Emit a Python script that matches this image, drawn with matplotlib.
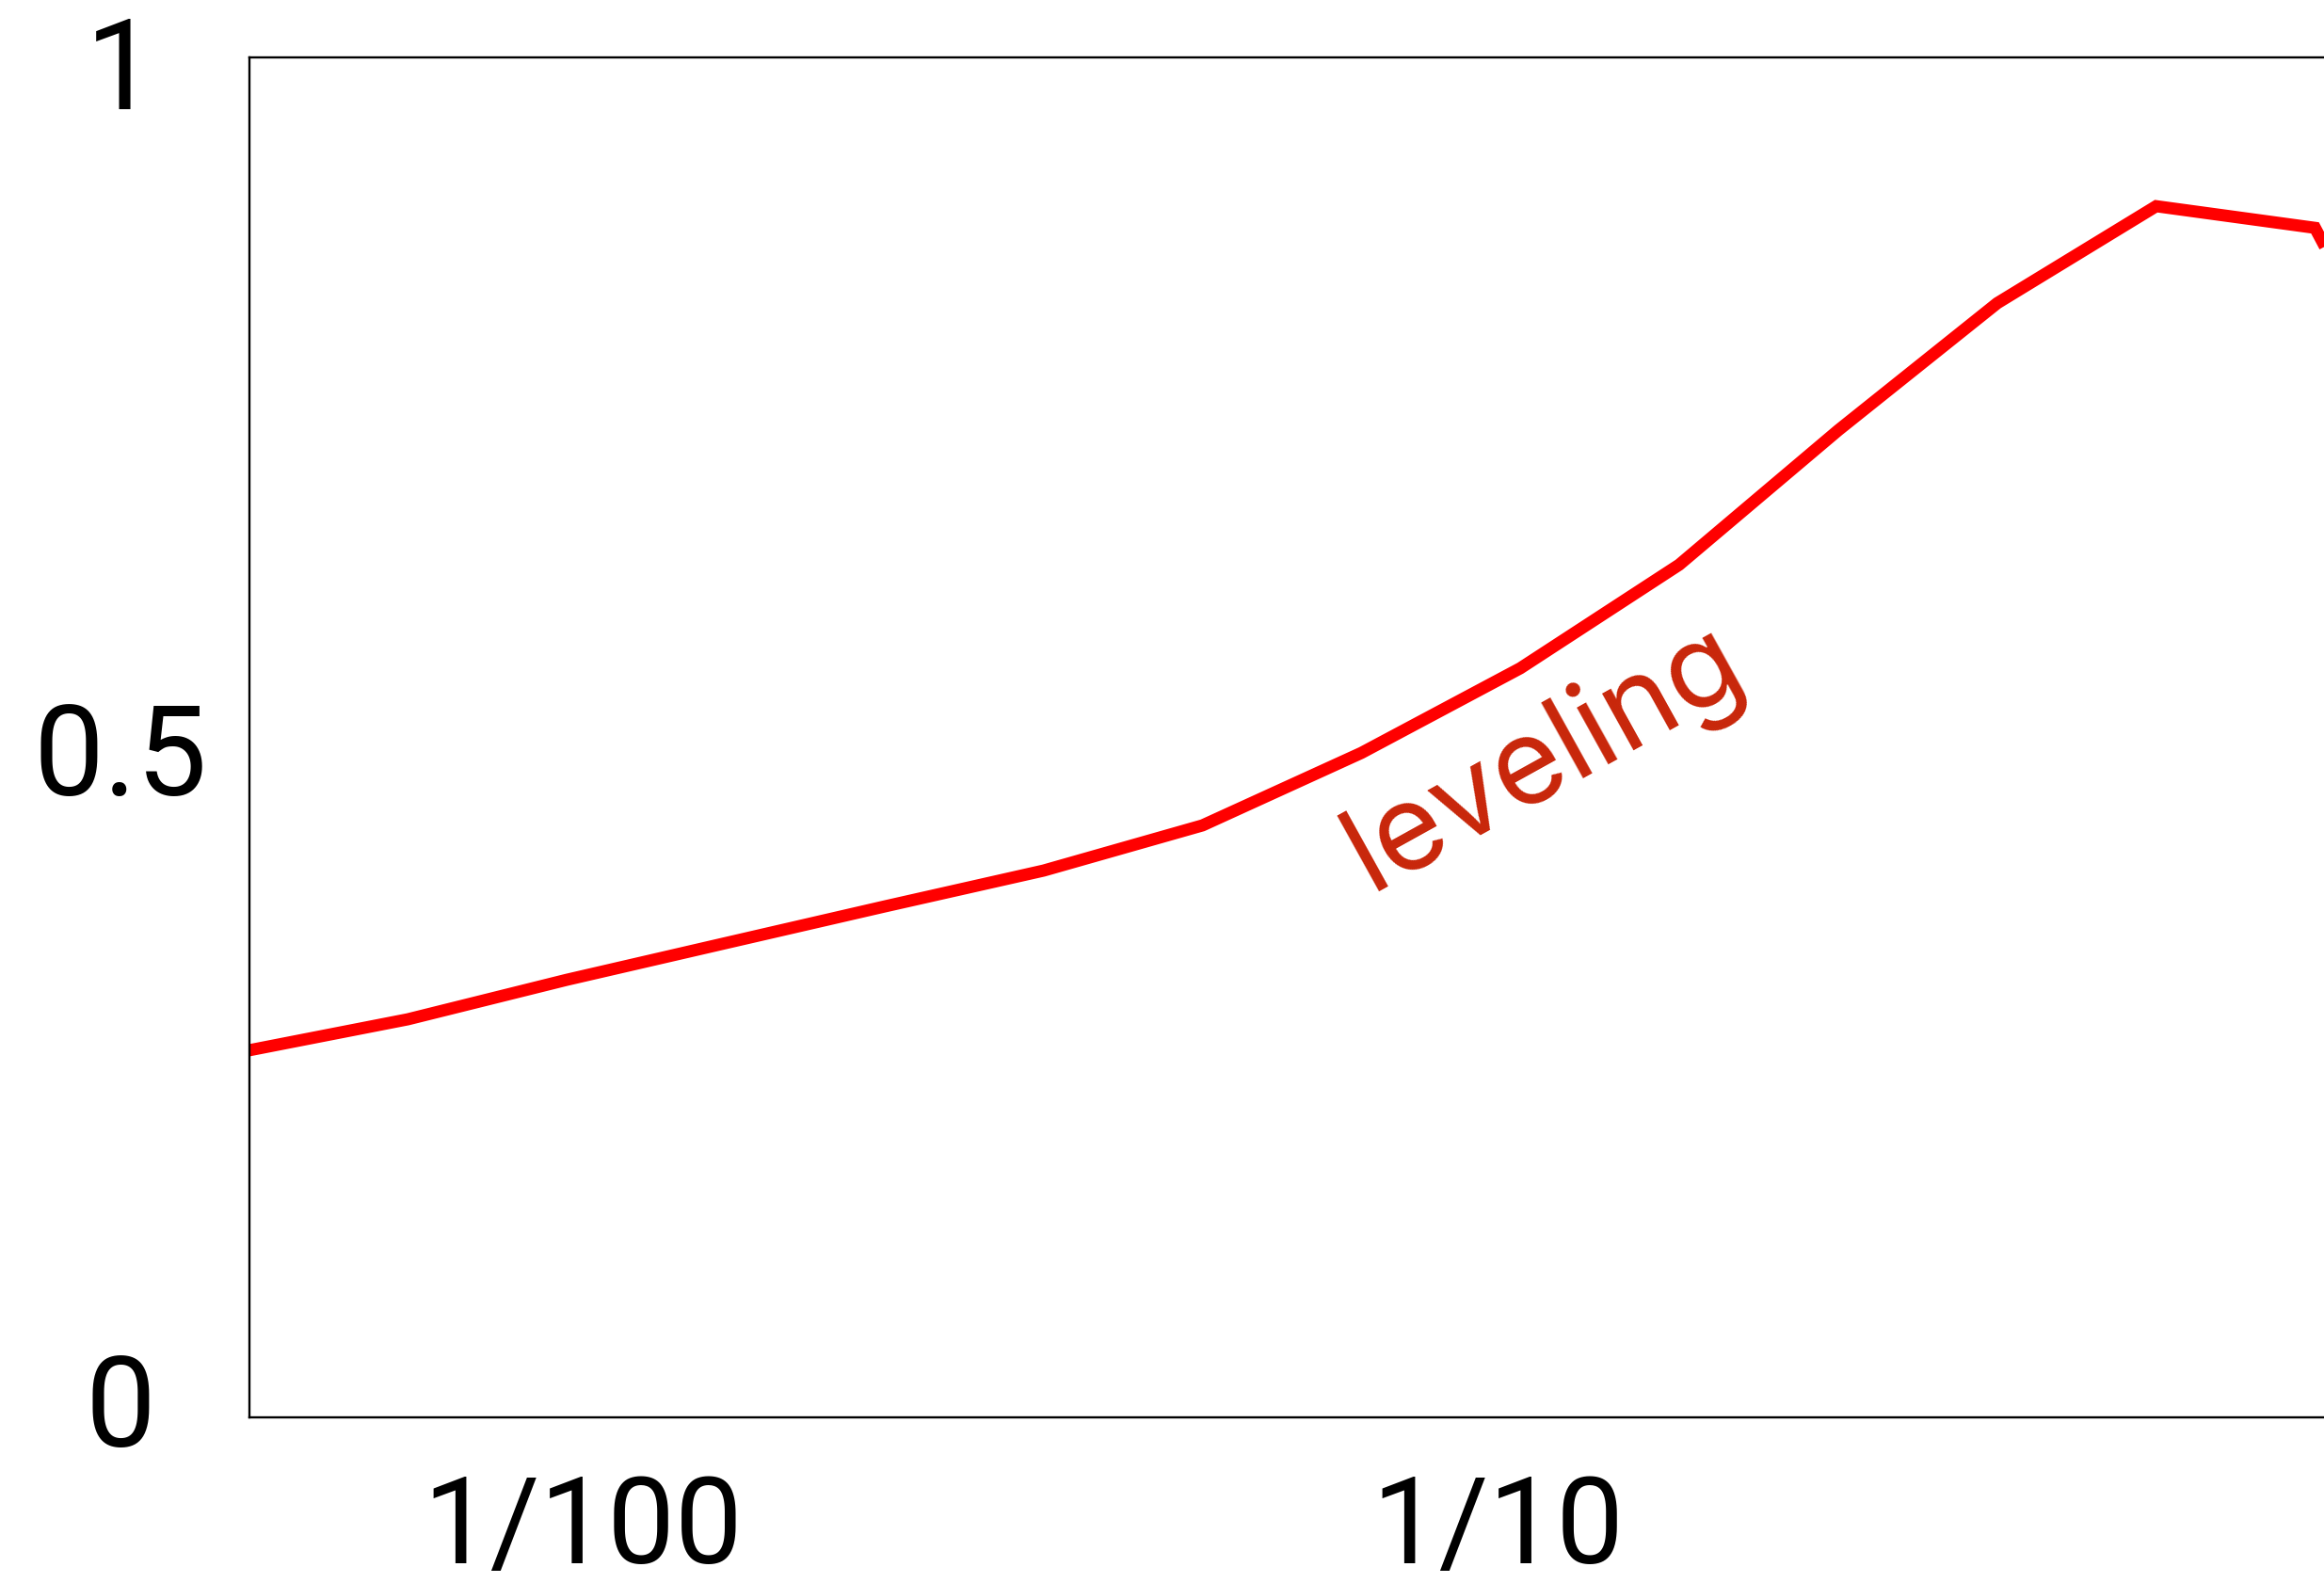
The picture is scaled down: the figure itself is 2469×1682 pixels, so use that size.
import matplotlib
matplotlib.use("Agg")
import matplotlib.pyplot as plt
from matplotlib.transforms import ScaledTranslation

# ---- data ----
x_values = [0.00431, 0.00643, 0.00959, 0.01432, 0.02137, 0.03188, 0.04757,
            0.07098, 0.1059, 0.1580, 0.2359, 0.3520, 0.5252, 0.7835, 1.169]
y_values = [0.2666, 0.2898, 0.3193, 0.3468, 0.3742, 0.4010, 0.4348,
            0.4890, 0.5523, 0.6297, 0.7303, 0.8253, 0.8978, 0.8816, 0.658]
x_ticks = [0.01, 0.1]
x_tick_labels = ["1/100", "1/10"]
y_ticks = [0, 0.5, 1]
y_tick_labels = ["0", "0.5", "1"]
annotation = "leveling"
annotation_xy = (0.1126, 0.4847)

plt.rcParams['font.family'] = ['Roboto', 'Liberation Sans', 'DejaVu Sans']

W, H = 2469, 1682
fig = plt.figure(figsize=(W / 100, H / 100), dpi=100)
fig.patch.set_facecolor('white')

# axes extends past the right edge of the figure (as in the reference)
left_px, right_px, top_px, bottom_px = 264.5, 2639.3, 61.5, 1505.5
ax = fig.add_axes([left_px / W, (H - bottom_px) / H,
                   (right_px - left_px) / W, (bottom_px - top_px) / H])

ax.plot(x_values, y_values, color='#ff0000', lw=9.3,
        solid_joinstyle='miter', solid_capstyle='butt')

ax.set_xscale('log')
ax.set_xlim(0.00431, 1.2)
ax.set_ylim(-0.0075, 1.0087)

ax.set_xticks(x_ticks)
ax.set_xticklabels(x_tick_labels)
ax.xaxis.set_minor_locator(matplotlib.ticker.NullLocator())
ax.set_yticks(y_ticks)
ax.set_yticklabels(y_tick_labels)

ax.tick_params(axis='both', length=0, labelsize=96)
ax.tick_params(axis='x', pad=43)
ax.tick_params(axis='y', pad=98)
for lbl in ax.get_yticklabels():
    lbl.set_horizontalalignment('center')
for lbl in ax.get_xticklabels():
    lbl.set_fontsize(92)

# small per-label vertical nudges (points) to match the reference layout
y_label_nudge_pt = [6, -8, 6]
for tick, dy in zip(ax.yaxis.get_major_ticks(), y_label_nudge_pt):
    tick.label1.set_transform(tick.label1.get_transform() +
                              ScaledTranslation(0, dy / 72, fig.dpi_scale_trans))

for s in ax.spines.values():
    s.set_linewidth(1.7)
    s.set_color('black')

ax.text(annotation_xy[0], annotation_xy[1], annotation, color='#c8260a',
        fontsize=91, family=['Inter', 'Roboto', 'DejaVu Sans'],
        fontweight='normal', rotation=29,
        rotation_mode='anchor', ha='center', va='center')

fig.savefig('out.png', dpi=100, facecolor='white')
